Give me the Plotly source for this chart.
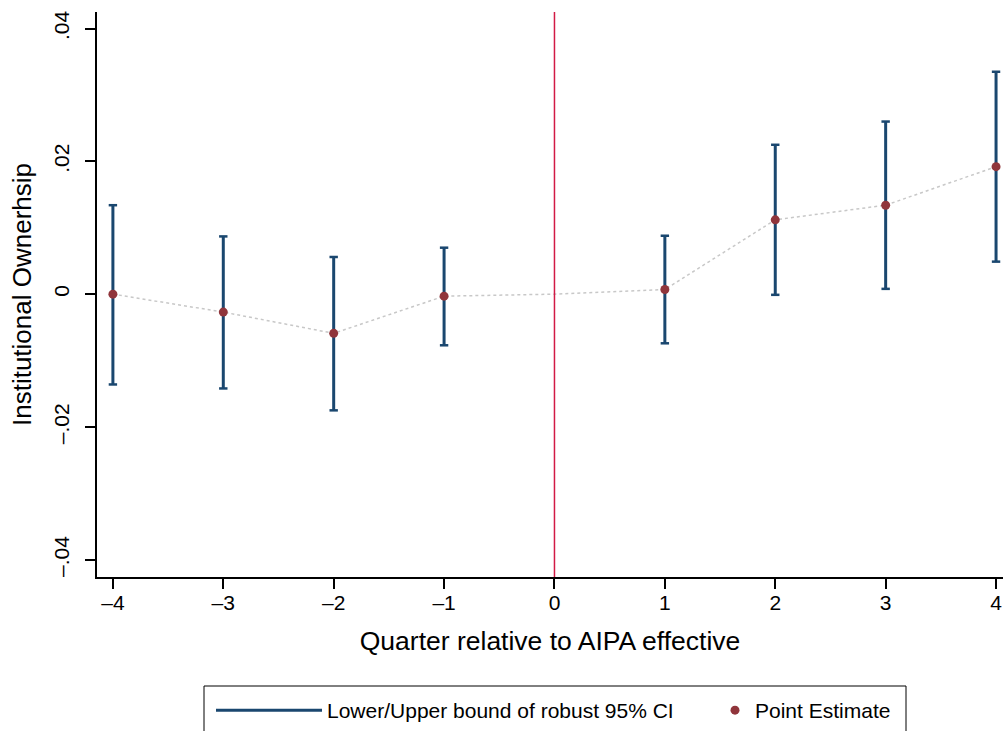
import plotly.graph_objects as go

# Data
quarters = [-4, -3, -2, -1, 1, 2, 3, 4]
estimates = [0.0000, -0.0027, -0.0059, -0.0003, 0.0007, 0.0112, 0.0134, 0.0192]
ci_lower = [-0.0136, -0.0142, -0.0175, -0.0077, -0.0074, -0.0001, 0.0008, 0.0049]
ci_upper = [0.0134, 0.0087, 0.0056, 0.0070, 0.0088, 0.0225, 0.0260, 0.0335]

# Reference quarter (omitted) included in the connecting line
line_quarters = [-4, -3, -2, -1, 0, 1, 2, 3, 4]
line_estimates = [0.0000, -0.0027, -0.0059, -0.0003, 0.0, 0.0007, 0.0112, 0.0134, 0.0192]

x_ticks = [-4, -3, -2, -1, 0, 1, 2, 3, 4]
x_ticklabels = ["–4", "–3", "–2", "–1", "0", "1", "2", "3", "4"]
y_ticks = [-0.04, -0.02, 0, 0.02, 0.04]
y_ticklabels = ["–.04", "–.02", "0", ".02", ".04"]

NAVY = "#1A476F"
MAROON = "#90353B"
FONT = "Liberation Sans, Arial, Helvetica, sans-serif"

# build segments for CI
seg_x, seg_y = [], []
for q, lo, hi in zip(quarters, ci_lower, ci_upper):
    seg_x += [q, q, None]
    seg_y += [lo, hi, None]

fig = go.Figure()

fig.add_trace(go.Scatter(
    x=line_quarters, y=line_estimates, mode="lines",
    line=dict(color="#C8C8C8", width=1.5, dash="dot"),
    showlegend=False, hoverinfo="skip"))

fig.add_trace(go.Scatter(
    x=seg_x, y=seg_y, mode="lines",
    line=dict(color=NAVY, width=3),
    name="Lower/Upper bound of robust 95% CI",
    legend="legend"))

fig.add_trace(go.Scatter(
    x=quarters + quarters, y=ci_lower + ci_upper, mode="markers",
    marker=dict(symbol="line-ew-open", size=6, color=NAVY,
                line=dict(color=NAVY, width=2.5)),
    showlegend=False, hoverinfo="skip"))

fig.add_trace(go.Scatter(
    x=quarters, y=estimates, mode="markers",
    marker=dict(color=MAROON, size=9),
    name="Point Estimate",
    legend="legend2"))

fig.add_shape(type="line", xref="x", yref="paper", x0=0, x1=0, y0=0, y1=1,
              line=dict(color="#D21A45", width=1.5))

# legend frame
fig.add_shape(type="rect", xref="paper", yref="paper",
              x0=(204 - 97) / 906, x1=(906 - 97) / 906,
              y0=(577 - 745) / 565, y1=(577 - 686) / 565,
              line=dict(color="black", width=1), fillcolor="rgba(0,0,0,0)")

fig.update_layout(
    width=1003, height=731,
    margin=dict(l=97, r=0, t=12, b=154),
    paper_bgcolor="white", plot_bgcolor="white",
    font=dict(family=FONT, size=21, color="black"),
    legend=dict(orientation="h", x=(211 - 97) / 906, xanchor="left",
                y=(577 - 711) / 565, yanchor="middle",
                itemwidth=106, font=dict(size=21), bgcolor="rgba(0,0,0,0)"),
    legend2=dict(orientation="h", x=(715 - 97) / 906, xanchor="left",
                 y=(577 - 711) / 565, yanchor="middle",
                 itemwidth=30, font=dict(size=21), bgcolor="rgba(0,0,0,0)"),
    xaxis=dict(range=[-4.144, 4.063], tickvals=x_ticks, ticktext=x_ticklabels,
               showgrid=False, zeroline=False, showline=True, linecolor="black",
               linewidth=1.5, ticks="outside", ticklen=10, tickwidth=1.5,
               tickcolor="black", tickfont=dict(size=21), ticklabelstandoff=-4,
               title=dict(text="Quarter relative to AIPA effective",
                          font=dict(size=26.5), standoff=18)),
    yaxis=dict(range=[-0.0426, 0.0425], tickvals=y_ticks, ticktext=y_ticklabels,
               showgrid=False, zeroline=False, showline=True, linecolor="black",
               linewidth=1.5, ticks="outside", ticklen=10, tickwidth=1.5,
               tickcolor="black", tickangle=-90, tickfont=dict(size=21),
               ticklabelstandoff=8,
               title=dict(text="Institutional Ownerhsip",
                          font=dict(size=26), standoff=11)),
)

fig.write_html("out.html", config={"displayModeBar": False},
               post_script="document.body.style.margin='0px';")
